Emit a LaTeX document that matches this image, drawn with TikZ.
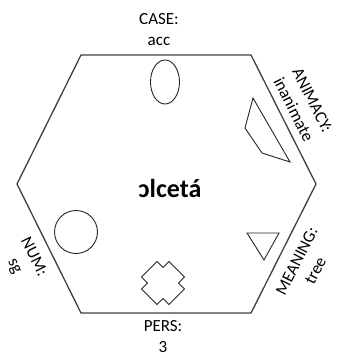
\documentclass[tikz,border=0pt]{standalone}
\usepackage{fontspec}
\setmainfont{Carlito}
\begin{document}
\begin{tikzpicture}[x=1pt,y=-1pt,
  feat/.style={align=center,inner sep=0pt,font=\fontsize{17}{21}\selectfont},
  shp/.style={draw=black!85,line width=0.9pt}]
 \useasboundingbox (0,0) rectangle (337,358);
 % the hexagon
 \draw[line width=1.3pt,draw=black!75] (81,55) -- (251,55) -- (316,184) -- (251,313)
   -- (81,313) -- (17,184) -- cycle;
 \node[font=\bfseries\fontsize{26}{30}\selectfont] (word) at (170,188) {ɔlcetá};
 % features round the edges
 \node[feat] (case) at (159,30) {CASE:\\acc};
 \node[feat,rotate=-63.3] (anim) at (303,105) {ANIMACY:\\inanimate};
 \node[feat,rotate=63.3] (mean) at (306,266) {MEANING:\\tree};
 \node[feat] (pers) at (163,337) {PERS:\\3};
 \node[feat,rotate=-63.3] (num) at (24,262) {NUM:\\sg};
 % the shapes
 \draw[shp] (165,82) ellipse [x radius=14.5, y radius=22];
 \draw[shp] (253,98) -- (245,128) -- (262,153) -- (290,162) -- cycle;
 \draw[shp] (247,233) -- (279,233) -- (264,260) -- cycle;
 \draw[shp,shift={(163,283)},rotate=45] (10.9,19.5) -- (-10.9,19.5) -- (-10.9,10.9)
   -- (-19.5,10.9) -- (-19.5,-10.9) -- (-10.9,-10.9) -- (-10.9,-19.5) -- (10.9,-19.5)
   -- (10.9,-10.9) -- (19.5,-10.9) -- (19.5,10.9) -- (10.9,10.9) -- cycle;
 \draw[shp] (76,232) circle [radius=21.5];
\end{tikzpicture}
\end{document}
